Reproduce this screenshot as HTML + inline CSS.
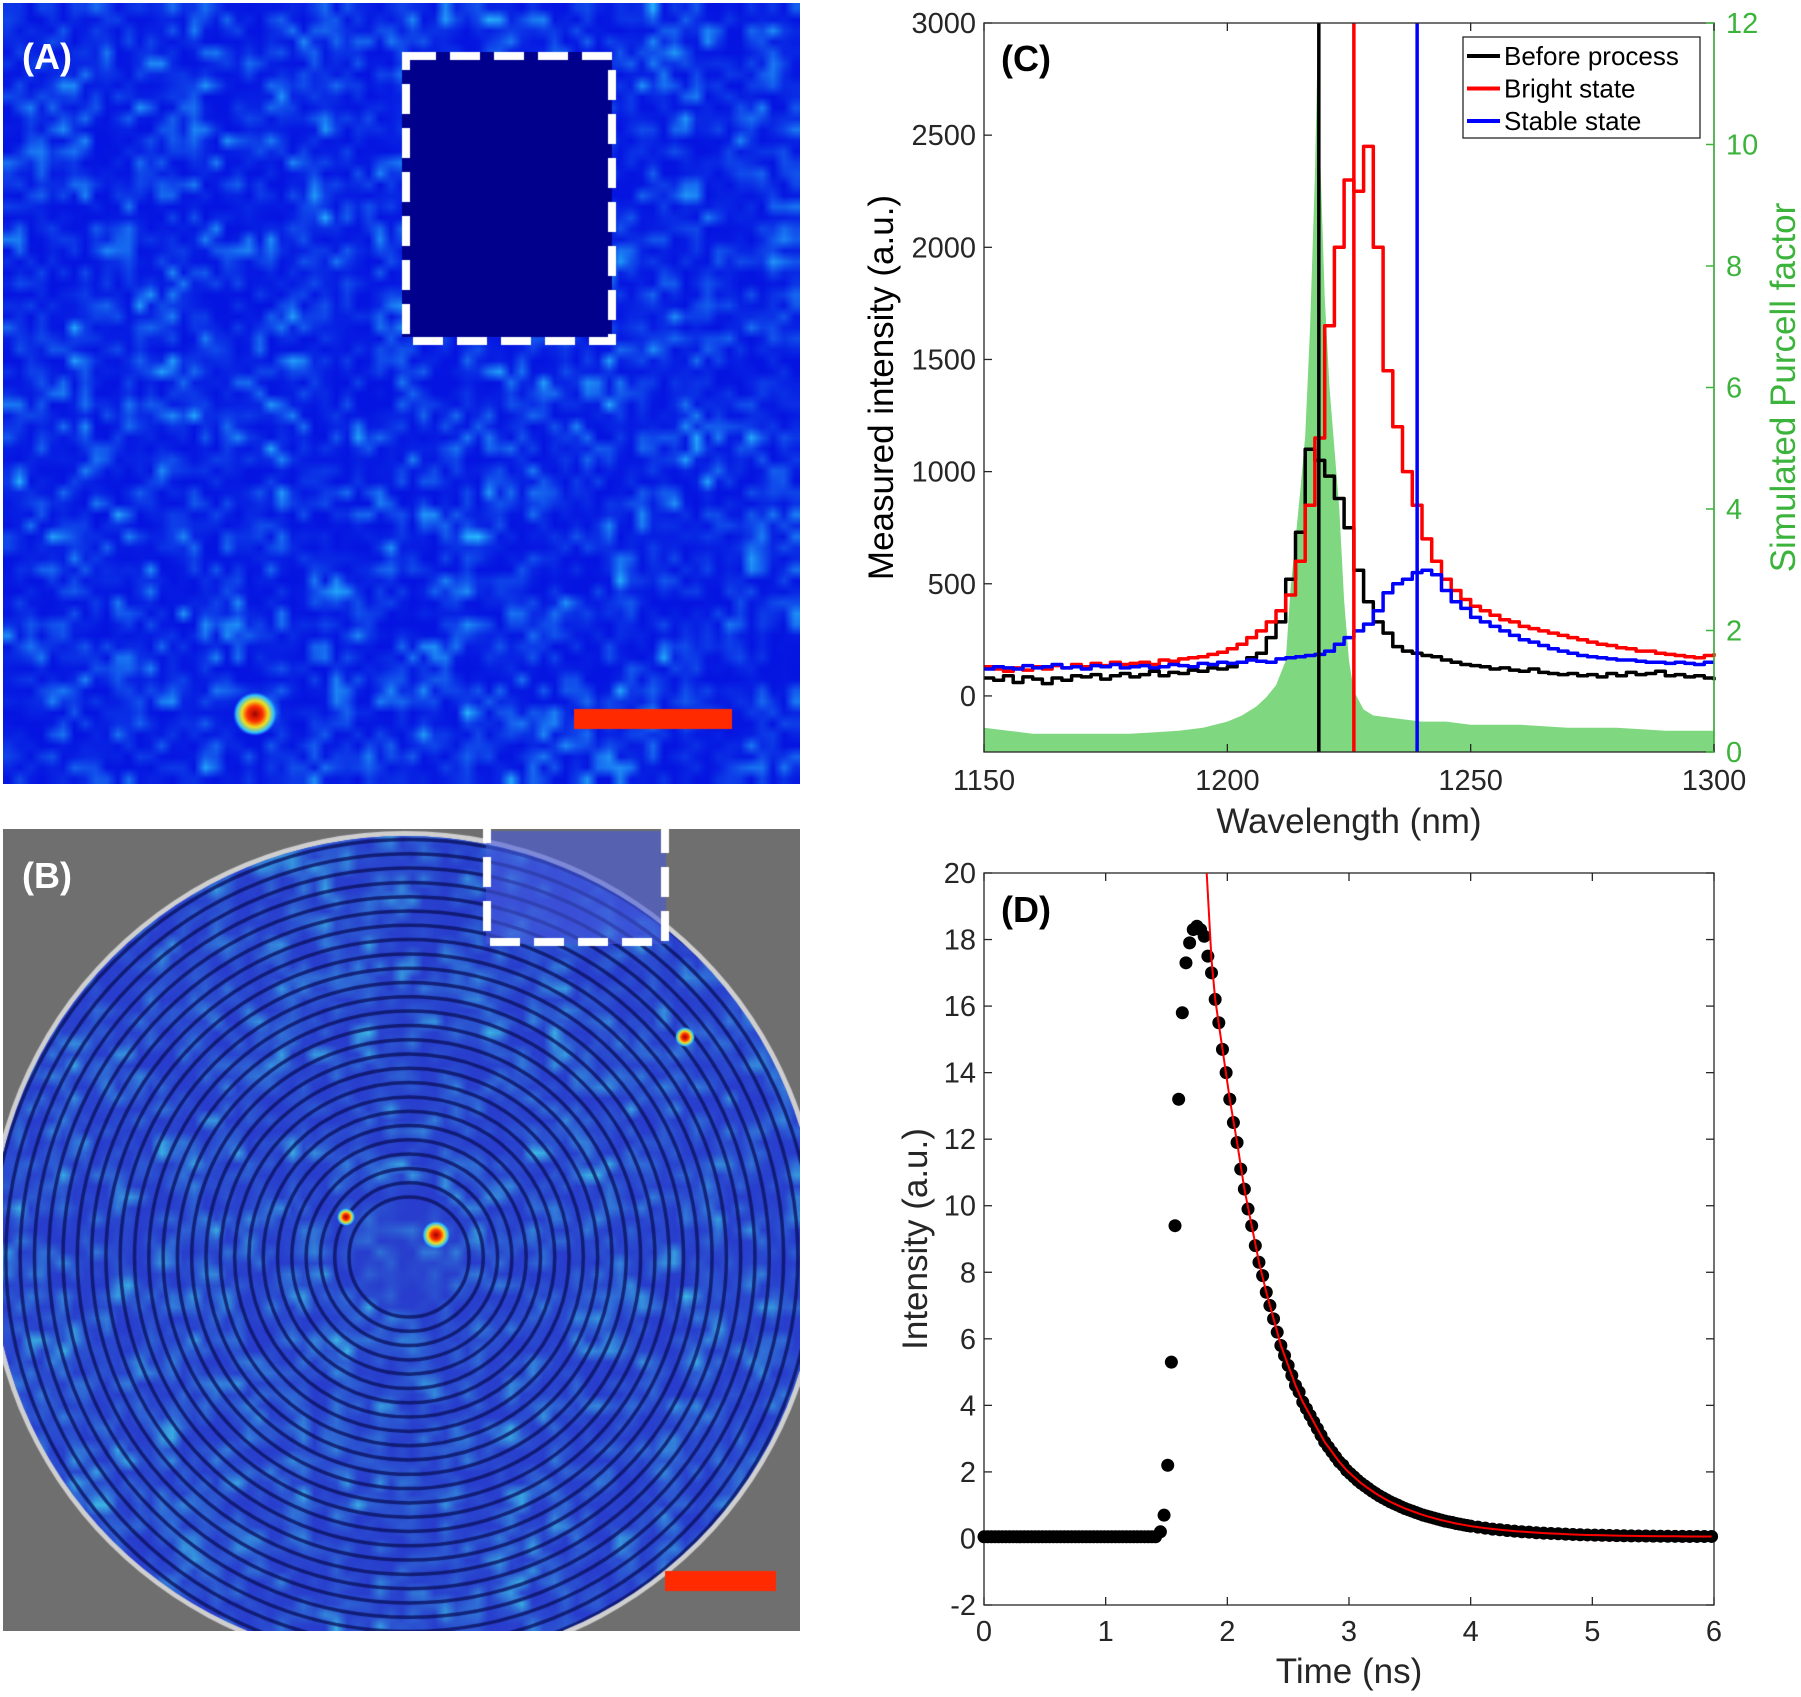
<!DOCTYPE html>
<html><head><meta charset="utf-8">
<style>
html,body{margin:0;padding:0;background:#fff;}
#root{position:relative;width:1801px;height:1697px;overflow:hidden;font-family:"Liberation Sans",Arial,sans-serif;}
canvas{position:absolute;}
svg{position:absolute;left:0;top:0;}
.lab{position:absolute;color:#fff;font-weight:bold;font-size:36px;}
</style></head>
<body>
<div id="root">
<canvas id="cA" width="797" height="781" style="left:3px;top:3px"></canvas>
<canvas id="cB" width="797" height="802" style="left:3px;top:829px"></canvas>
<div class="lab" style="left:22px;top:36px">(A)</div>
<div class="lab" style="left:22px;top:855px">(B)</div>
<svg id="chart" width="1801" height="1697"></svg>
</div>
<script>
// ---------- Panel C data ----------
const wl = [1150,1152,1154,1156,1158,1160,1162,1164,1166,1168,1170,1172,1174,1176,1178,1180,1182,1184,1186,1188,1190,1192,1194,1196,1198,
1200,1202,1204,1206,1208,1210,1212,1214,1216,1218,1220,1222,1224,1226,1228,1230,1232,1234,1236,1238,1240,1242,1244,1246,1248,1250,
1252,1254,1256,1258,1260,1262,1264,1266,1268,1270,1272,1274,1276,1278,1280,1282,1284,1286,1288,1290,1292,1294,1296,1298,1300];
const beforeProcess = [80,70,90,60,85,75,55,80,70,90,85,95,75,90,100,85,95,110,90,105,100,115,110,125,120,
130,150,170,190,260,330,520,730,1100,1050,980,880,750,560,420,330,280,220,200,190,180,175,160,150,140,135,
130,120,125,115,110,120,105,100,95,100,90,95,85,100,90,105,95,100,110,90,95,85,90,80,70];
const brightState = [130,120,110,125,115,130,120,135,125,140,130,145,135,150,140,145,150,140,160,155,165,170,175,185,195,
210,230,260,290,330,380,450,600,850,1150,1650,2000,2300,2250,2450,2000,1450,1200,1000,850,700,600,520,470,430,400,
380,360,340,330,310,300,290,280,270,260,250,240,230,225,215,210,200,200,190,185,180,175,170,180,190];
const stableState = [120,130,125,120,135,125,130,140,125,130,120,135,130,140,125,130,135,125,130,140,135,130,145,140,150,
145,150,160,155,150,165,170,175,180,185,200,230,260,290,320,380,460,500,520,550,560,540,470,420,390,350,
330,310,290,270,250,240,225,210,200,190,180,175,170,165,160,160,155,150,150,145,150,145,140,150,150];
const purcellWl = [1150,1155,1160,1170,1180,1190,1195,1200,1203,1206,1208,1210,1212,1213,1214,1215,1216,1217,1218,1218.6,1219,1220,1221,1222,1223,1224,1225,1226,1228,1230,1235,1240,1245,1250,1260,1270,1280,1290,1300];
const purcell = [0.4,0.35,0.3,0.3,0.3,0.35,0.4,0.5,0.6,0.75,0.9,1.1,1.5,2.7,3.5,4.3,5.2,7,9.5,11.8,10,7.5,6,5,4,2.5,1.5,1.0,0.7,0.6,0.55,0.5,0.5,0.45,0.45,0.4,0.4,0.35,0.35];
const markerWl = [1218.8,1226,1239];
const cXTicks = [1150,1200,1250,1300];
const cYTicks = [0,500,1000,1500,2000,2500,3000];
const cY2Ticks = [0,2,4,6,8,10,12];
const legendLabels = ["Before process","Bright state","Stable state"];

// ---------- Panel D data ----------
const baselineStart = 0, baselineEnd = 1.42, baselineStep = 0.03, baselineLevel = 0.05;
const decayT = [1.45,1.48,1.51,1.54,1.57,1.60,1.63,1.66,1.69,1.72,1.75,1.78,1.81,1.84,1.87,1.90,1.93,1.96,1.99,2.02,2.05,2.08,2.11,2.14,2.17,2.20,2.23,2.26,2.29,2.32,2.35,2.38,2.41,2.44,2.47,2.50,2.53,2.56,2.59,2.62,2.65,2.68,2.71,2.74,2.77,2.80,2.83,2.86,2.89,2.92,2.95,2.98,3.01,
3.04,3.07,3.10,3.13,3.16,3.19,3.22,3.25,3.28,3.31,3.34,3.37,3.40,3.43,3.46,3.49,3.52,3.55,3.58,3.61,3.64,3.67,3.70,3.73,3.76,3.79,3.82,3.85,3.88,3.91,3.94,3.97,4.00,
4.06,4.12,4.18,4.24,4.30,4.36,4.42,4.48,4.54,4.60,4.66,4.72,4.78,4.84,4.90,4.96,5.02,5.08,5.14,5.20,5.26,5.32,5.38,5.44,5.50,5.56,5.62,5.68,5.74,5.80,5.86,5.92,5.98];
const decayI = [0.2,0.7,2.2,5.3,9.4,13.2,15.8,17.3,17.9,18.3,18.4,18.3,18.1,17.5,17.0,16.2,15.5,14.7,14.0,13.2,12.5,11.9,11.1,10.5,9.9,9.4,8.8,8.3,7.9,7.4,7.0,6.6,6.2,5.8,5.5,5.2,4.9,4.6,4.4,4.1,3.9,3.7,3.5,3.3,3.1,2.9,2.75,2.6,2.45,2.3,2.2,2.05,1.95,
1.85,1.75,1.66,1.58,1.50,1.42,1.35,1.28,1.22,1.16,1.10,1.05,1.00,0.95,0.90,0.86,0.82,0.78,0.74,0.70,0.67,0.64,0.61,0.58,0.55,0.52,0.50,0.48,0.45,0.43,0.41,0.39,0.37,
0.34,0.31,0.28,0.26,0.24,0.22,0.20,0.19,0.17,0.16,0.15,0.14,0.13,0.12,0.11,0.105,0.10,0.095,0.09,0.085,0.08,0.078,0.075,0.072,0.07,0.068,0.066,0.064,0.062,0.06,0.06,0.06,0.06];
const fitT = [1.83,1.87,1.90,1.96,2.02,2.08,2.14,2.20,2.26,2.32,2.38,2.44,2.50,2.56,2.62,2.68,2.74,2.80,2.86,2.92,2.98,3.04,3.10,3.16,3.22,3.28,3.34,3.40,3.46,3.52,3.58,3.64,3.70,3.76,3.82,3.88,3.94,4.00,4.12,4.24,4.36,4.48,4.60,4.72,4.84,4.96,5.08,5.20,5.32,5.44,5.56,5.68,5.80,5.98];
const fitI = [20,17.4,16.2,14.7,13.2,11.9,10.5,9.4,8.3,7.4,6.6,5.8,5.2,4.6,4.1,3.7,3.3,2.9,2.6,2.3,2.05,1.85,1.66,1.50,1.35,1.22,1.10,1.00,0.90,0.82,0.74,0.67,0.61,0.55,0.50,0.45,0.41,0.37,0.31,0.26,0.22,0.19,0.16,0.14,0.12,0.105,0.095,0.085,0.078,0.072,0.068,0.064,0.06,0.06];
const dXTicks = [0,1,2,3,4,5,6];
const dYTicks = [-2,0,2,4,6,8,10,12,14,16,18,20];

// ---------- drawing ----------
const NS = "http://www.w3.org/2000/svg";
const svg = document.getElementById('chart');
function mk(tag, attrs, parent){ const e=document.createElementNS(NS,tag); for(const k in attrs) e.setAttribute(k,attrs[k]); (parent||svg).appendChild(e); return e; }
function txt(s, attrs, parent){ const e=mk('text',attrs,parent); e.textContent=s; return e; }

const CL=984, CR=1714, CT=23, CB=752;
const cx = v => CL + (v-1150)/(150)*(CR-CL);
const cy = v => CB - (v+250)/3250*(CB-CT);
const cy2 = v => CB - v/12*(CB-CT);
const gC = mk('g',{});
 

let pd = `M${cx(purcellWl[0])},${CB}`;
purcellWl.forEach((w,i)=>{ pd += ` L${cx(w).toFixed(1)},${cy2(purcell[i]).toFixed(1)}`; });
pd += ` L${cx(purcellWl[purcellWl.length-1])},${CB} Z`;
const pa = mk('path',{d:pd,fill:'#7fd87f',stroke:'none'},gC);
 

function stairs(vals){
  let d='';
  wl.forEach((w,i)=>{
    const x0=cx(w), x1=cx(Math.min(w+2,1300)), y=cy(vals[i]);
    d += (i===0?`M${x0.toFixed(1)},${y.toFixed(1)}`:` L${x0.toFixed(1)},${y.toFixed(1)}`) + ` L${x1.toFixed(1)},${y.toFixed(1)}`;
  });
  return d;
}
[[beforeProcess,'#000','before-process-line'],[brightState,'#ff0000','bright-state-line'],[stableState,'#0000ff','stable-state-line']].forEach(s=>{
  const p=mk('path',{d:stairs(s[0]),fill:'none',stroke:s[1],'stroke-width':3.5,'stroke-linejoin':'round'},gC);
   
});
const mcol=['#000','#ff0000','#0000ff'], mname=['before-peak-marker','bright-peak-marker','stable-peak-marker'];
markerWl.forEach((w,i)=>{
  const l=mk('line',{x1:cx(w),x2:cx(w),y1:CT,y2:CB,stroke:mcol[i],'stroke-width':3.5},gC);
   
});
const bx=mk('rect',{x:CL,y:CT,width:CR-CL,height:CB-CT,fill:'none',stroke:'#262626','stroke-width':1.3},gC);
 
mk('line',{x1:CR,x2:CR,y1:CT,y2:CB,stroke:'#3cb43c','stroke-width':1.5},gC);
cXTicks.forEach(v=>{
  mk('line',{x1:cx(v),x2:cx(v),y1:CB,y2:CB-8,stroke:'#262626','stroke-width':1.3},gC);
  mk('line',{x1:cx(v),x2:cx(v),y1:CT,y2:CT+8,stroke:'#262626','stroke-width':1.3},gC);
  const t=txt(String(v),{x:cx(v),y:CB+38,'font-size':29,'text-anchor':'middle',fill:'#262626'},gC);
   
});
cYTicks.forEach(v=>{
  mk('line',{x1:CL,x2:CL+8,y1:cy(v),y2:cy(v),stroke:'#262626','stroke-width':1.3},gC);
  const t=txt(String(v),{x:CL-8,y:cy(v)+10,'font-size':29,'text-anchor':'end',fill:'#262626'},gC);
   
});
cY2Ticks.forEach(v=>{
  mk('line',{x1:CR,x2:CR-8,y1:cy2(v),y2:cy2(v),stroke:'#3cb43c','stroke-width':1.5},gC);
  const t=txt(String(v),{x:CR+12,y:cy2(v)+10,'font-size':29,'text-anchor':'start',fill:'#3cb43c'},gC);
   
});
let t;
t=txt('Wavelength (nm)',{x:(CL+CR)/2,y:833,'font-size':35,'text-anchor':'middle',fill:'#262626'},gC);
 
t=txt('Measured intensity (a.u.)',{x:0,y:0,'font-size':35,'text-anchor':'middle',fill:'#000',transform:`translate(893,${(CT+CB)/2}) rotate(-90)`},gC);
 
t=txt('Simulated Purcell factor',{x:0,y:0,'font-size':35,'text-anchor':'middle',fill:'#3cb43c',transform:`translate(1795,${(CT+CB)/2}) rotate(-90)`},gC);
 
t=txt('(C)',{x:1001,y:71,'font-size':36,'font-weight':'bold',fill:'#000'},gC);
 
const lg=mk('g',{},gC);
 
mk('rect',{x:1463,y:37,width:237,height:101,fill:'#fff',stroke:'#262626','stroke-width':1.3},lg);
legendLabels.forEach((s,i)=>{
  const y=56+i*32.5;
  const e=mk('g',{},lg);
   
  mk('line',{x1:1467,x2:1500,y1:y,y2:y,stroke:mcol[i],'stroke-width':4},e);
  txt(s,{x:1504,y:y+9,'font-size':26,fill:'#000'},e);
});

// Panel D
const DL=984, DR=1714, DT=873, DB=1605;
const dx = v => DL + v/6*(DR-DL);
const dy = v => DB - (v+2)/22*(DB-DT);
const gD = mk('g',{});
 
const fd=mk('rect',{x:DL,y:DT,width:DR-DL,height:DB-DT,fill:'none',stroke:'#262626','stroke-width':1.3},gD);
 
dXTicks.forEach(v=>{
  mk('line',{x1:dx(v),x2:dx(v),y1:DB,y2:DB-8,stroke:'#262626','stroke-width':1.3},gD);
  mk('line',{x1:dx(v),x2:dx(v),y1:DT,y2:DT+8,stroke:'#262626','stroke-width':1.3},gD);
  const e=txt(String(v),{x:dx(v),y:DB+36,'font-size':29,'text-anchor':'middle',fill:'#262626'},gD);
   
});
dYTicks.forEach(v=>{
  mk('line',{x1:DL,x2:DL+8,y1:dy(v),y2:dy(v),stroke:'#262626','stroke-width':1.3},gD);
  mk('line',{x1:DR,x2:DR-8,y1:dy(v),y2:dy(v),stroke:'#262626','stroke-width':1.3},gD);
  const e=txt(String(v),{x:DL-8,y:dy(v)+10,'font-size':29,'text-anchor':'end',fill:'#262626'},gD);
   
});
t=txt('Time (ns)',{x:(DL+DR)/2,y:1683,'font-size':35,'text-anchor':'middle',fill:'#262626'},gD);
 
t=txt('Intensity (a.u.)',{x:0,y:0,'font-size':35,'text-anchor':'middle',fill:'#262626',transform:`translate(927,${(DT+DB)/2}) rotate(-90)`},gD);
 
t=txt('(D)',{x:1001,y:922,'font-size':36,'font-weight':'bold',fill:'#000'},gD);
 
const pts=mk('g',{fill:'#000'},gD);
 
for(let tt=baselineStart; tt<=baselineEnd+1e-9; tt+=baselineStep){
  const c=mk('circle',{cx:dx(tt),cy:dy(baselineLevel),r:6.5},pts);
   
}
decayT.forEach((tt,i)=>{
  const c=mk('circle',{cx:dx(tt),cy:dy(decayI[i]),r:6.5},pts);
   
});
let fdp='';
fitT.forEach((tt,i)=>{ fdp += (i?' L':'M')+dx(tt).toFixed(1)+','+dy(fitI[i]).toFixed(1); });
const fl=mk('path',{d:fdp,fill:'none',stroke:'#ff0000','stroke-width':2},gD);
 

// ---------- image panels (texture) ----------
function hash(i,j,s){ let h=Math.sin(i*127.1+j*311.7+s*74.7)*43758.5453; return h-Math.floor(h); }
function noiseTex(ctx,w,h,cell,seed,base,hi,alpha){
  const nx=Math.ceil(w/cell), ny=Math.ceil(h/cell);
  const off=document.createElement('canvas'); off.width=nx; off.height=ny;
  const o=off.getContext('2d'); const img=o.createImageData(nx,ny);
  for(let j=0;j<ny;j++)for(let i=0;i<nx;i++){
    let v=(hash(i,j,seed)*0.6+hash(i>>1,j>>1,seed+3)*0.4); v=Math.pow(v,3.2);
    const k=(j*nx+i)*4;
    img.data[k]=base[0]+(hi[0]-base[0])*v; img.data[k+1]=base[1]+(hi[1]-base[1])*v; img.data[k+2]=base[2]+(hi[2]-base[2])*v; img.data[k+3]=alpha;
  }
  o.putImageData(img,0,0);
  ctx.imageSmoothingEnabled=true; ctx.drawImage(off,0,0,w,h);
}
function spot(ctx,x,y,r){
  const g=ctx.createRadialGradient(x,y,0,x,y,r);
  g.addColorStop(0,'#a00000');g.addColorStop(0.35,'#ff3000');g.addColorStop(0.6,'#f0e020');g.addColorStop(0.85,'#30c0ff');g.addColorStop(1,'rgba(30,120,255,0)');
  ctx.fillStyle=g; ctx.beginPath(); ctx.arc(x,y,r,0,7); ctx.fill();
}
(function(){
  const c=document.getElementById('cA').getContext('2d');
  c.fillStyle='#0a1ee6'; c.fillRect(0,0,797,781);
  noiseTex(c,797,781,11,1,[5,20,225],[40,190,255],255);
  c.fillStyle='#00008c'; c.fillRect(399,49,210,285);
  c.strokeStyle='#fff'; c.lineWidth=8; c.setLineDash([30,14]); c.strokeRect(403,53,206,285); c.setLineDash([]);
  spot(c,252,711,22);
  c.fillStyle='#ff2a00'; c.fillRect(571,706,158,20);
})();
(function(){
  const c=document.getElementById('cB').getContext('2d');
  c.fillStyle='#6f6f6f'; c.fillRect(0,0,797,802);
  const X=402,Y=420,R=418;
  c.fillStyle='#cfcfcf'; c.beginPath(); c.arc(X,Y,R,0,7); c.fill();
  c.save(); c.beginPath(); c.arc(X,Y,R-5,0,7); c.clip();
  c.fillStyle='#3248d2'; c.fillRect(0,0,797,802);
  noiseTex(c,797,802,11,7,[40,60,205],[60,190,230],255);
  c.strokeStyle='rgba(10,15,90,0.75)'; c.lineWidth=3.5;
  for(let r=60;r<R;r+=14.3){ c.beginPath(); c.arc(X+4,Y+8,r,0,7); c.stroke(); }
  c.restore();
  c.fillStyle='rgba(70,90,220,0.6)'; c.fillRect(483,2,180,113);
  c.strokeStyle='#fff'; c.lineWidth=8; c.setLineDash([30,14]); c.strokeRect(484,-4,178,117); c.setLineDash([]);
  spot(c,433,406,14); spot(c,343,388,9); spot(c,682,208,10);
  c.fillStyle='#ff2a00'; c.fillRect(662,742,111,20);
})();
</script>
</body></html>
